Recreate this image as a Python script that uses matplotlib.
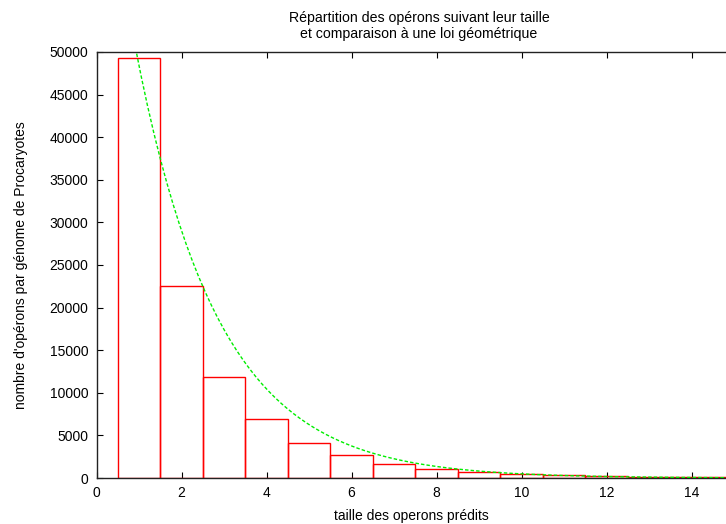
import numpy as np
import matplotlib
matplotlib.use("Agg")
import matplotlib.pyplot as plt

plt.rcParams['font.family'] = ['Liberation Sans', 'DejaVu Sans']
plt.rcParams['font.size'] = 10

# operon size (number of genes) and count per prokaryote genome
taille = [1, 2, 3, 4, 5, 6, 7, 8, 9, 10, 11, 12, 13, 14, 15]
nombre = [49250, 22530, 11820, 6890, 4090, 2720, 1680, 1020, 700, 470,
          400, 240, 160, 110, 60]

# geometric law fitted on the distribution
N_TOTAL = 121000
P_GEOM = 0.4

TITRE = u"Répartition des opérons suivant leur taille\net comparaison à une loi géométrique"

fig = plt.figure(figsize=(7.26, 5.24), dpi=100)
ax = fig.add_axes([96.5 / 726, 46 / 524, 1 - 96.5 / 726, 426 / 524])

ax.bar(taille, nombre, width=1.0, fill=False, edgecolor='#ff0000',
       linewidth=1.0, zorder=2)

xs = np.linspace(0, 15, 101)
ys = N_TOTAL * P_GEOM * (1 - P_GEOM) ** (xs - 1)
ax.plot(xs, ys, color='#00ee00', linewidth=1.0, dashes=(2.5, 1.5), zorder=3)

ax.set_xlim(0, (726 - 96.5) / 42.5)
ax.set_ylim(0, 50000)
ax.set_xticks(range(0, 15, 2))
ax.set_yticks(range(0, 50001, 5000))
ax.tick_params(direction='in', length=4.5, width=0.8, top=True, right=False,
               labelsize=10, pad=6)
for s in ax.spines.values():
    s.set_linewidth(1.0)
    s.set_color('#222222')
ax.spines['right'].set_visible(False)

ax.set_xlabel('taille des operons prédits', fontsize=10, labelpad=6)
ax.set_ylabel("nombre d'opérons par génome de Procaryotes", fontsize=10,
              labelpad=15)
fig.text(419 / 726, 1 - 26 / 524, TITRE, ha='center', va='center',
         fontsize=10.2, linespacing=1.15)

fig.savefig('out.png', dpi=100)
